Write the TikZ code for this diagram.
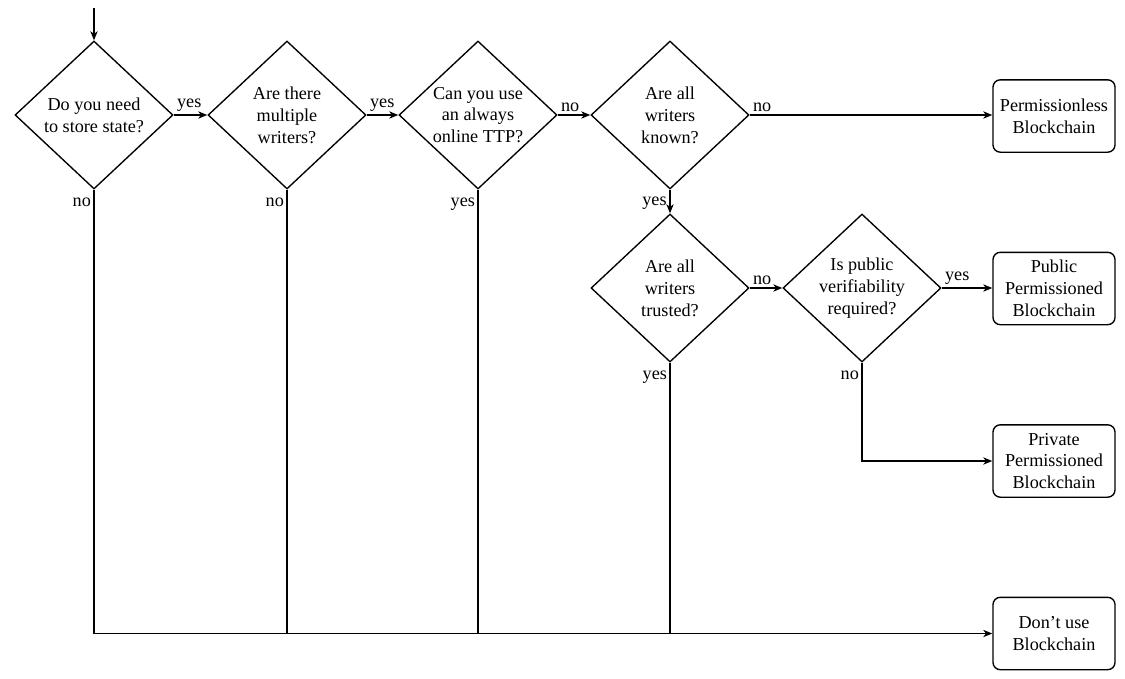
\documentclass[tikz,border=0pt]{standalone}
\usepackage{fontspec}
\setmainfont{Liberation Serif}
\usetikzlibrary{shapes.geometric,arrows.meta}
\begin{document}
\begin{tikzpicture}[x=0.55pt,y=-0.55pt,
  every node/.style={font=\fontsize{10pt}{12pt}\selectfont},
  dia/.style={draw,diamond,line width=0.75pt,inner sep=0pt,minimum width=86.9pt,minimum height=81.4pt,align=center},
  outbox/.style={draw,rectangle,rounded corners=4pt,line width=0.75pt,inner sep=0pt,minimum width=67.1pt,minimum height=39.8pt,align=center},
  arr/.style={line width=0.75pt,-{Stealth[length=5pt,width=4pt,inset=1.5pt]}},
  ln/.style={line width=0.75pt},
  lab/.style={inner sep=1.5pt},
  blab/.style={inner sep=1.5pt,below left,yshift=-3pt}]
\useasboundingbox (0,0) rectangle (1125,678);
\node[dia] (d1) at (94,115) {Do you need\\to store state?};
\node[dia] (d2) at (287,115) {Are there\\multiple\\writers?};
\node[dia] (d3) at (478,115) {Can you use\\an always\\online TTP?};
\node[dia] (d4) at (670,115) {Are all\\writers\\known?};
\node[dia] (d5) at (670,288) {Are all\\writers\\trusted?};
\node[dia] (d6) at (862,288) {Is public\\verifiability\\required?};
\node[outbox] (b1) at (1054,116) {Permissionless\\Blockchain};
\node[outbox] (b2) at (1054,288.5) {Public\\Permissioned\\Blockchain};
\node[outbox] (b3) at (1054,461) {Private\\Permissioned\\Blockchain};
\node[outbox] (b4) at (1054,633.5) {Don’t use\\Blockchain};
\coordinate (start) at (94,8);
\draw[arr] (start) -- (d1.north);
\draw[arr] (d1.east) -- node[lab,pos=0,above right] {yes} (d2.west);
\draw[arr] (d2.east) -- node[lab,pos=0,above right] {yes} (d3.west);
\draw[arr] (d3.east) -- node[lab,pos=0,above right] {no} (d4.west);
\draw[arr] (d4.east) -- node[lab,pos=0,above right] {no} (b1.west |- d4.east);
\draw[arr] (d4.south) -- node[lab,pos=0.55,left] {yes} (d5.north);
\draw[arr] (d5.east) -- node[lab,pos=0,above right] {no} (d6.west);
\draw[arr] (d6.east) -- node[lab,pos=0,above right] {yes} (b2.west |- d6.east);
\draw[arr] (d6.south) |- (b3.west);
\node[blab] at (d6.south) {no};
\draw[arr] (d1.south) |- (b4.west);
\node[blab] at (d1.south) {no};
\draw[ln] (d2.south) -- (d2.south |- b4.west);
\node[blab] at (d2.south) {no};
\draw[ln] (d3.south) -- (d3.south |- b4.west);
\node[blab] at (d3.south) {yes};
\draw[ln] (d5.south) -- (d5.south |- b4.west);
\node[blab] at (d5.south) {yes};
\end{tikzpicture}
\end{document}
